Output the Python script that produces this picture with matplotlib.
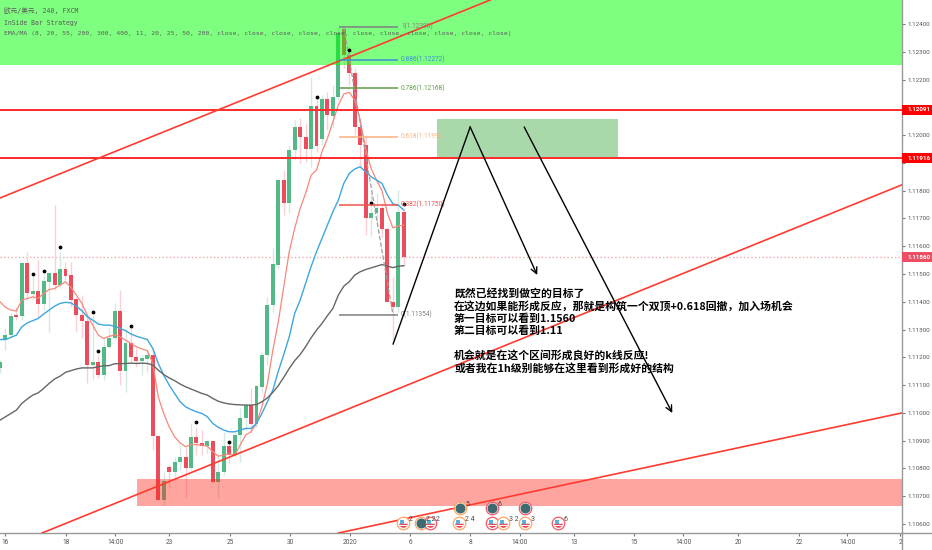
import matplotlib
matplotlib.use('Agg')
from matplotlib import pyplot as plt
from matplotlib.lines import Line2D
from matplotlib.patches import Rectangle

# candles, one per 4h bar
opens = [1.11160,1.11262,1.11282,1.11352,1.11350,1.11538,1.11428,1.11440,1.11393,1.11472,
         1.11502,1.11460,1.11518,1.11495,1.11410,1.11352,1.11332,1.11174,1.11183,1.11136,
         1.11237,1.11269,1.11366,1.11152,1.11251,1.11202,1.11186,1.11195,1.11210,1.10916,
         1.10686,1.10806,1.10787,1.10823,1.10840,1.10802,1.10912,1.10891,1.10880,1.10898,
         1.10752,1.10786,1.10880,1.10848,1.10919,1.10982,1.11028,1.10960,1.11094,1.11208,
         1.11388,1.11534,1.11838,1.11754,1.11946,1.12028,1.11994,1.11949,1.12106,1.11985,
         1.12129,1.12069,1.12136,1.12381,1.12288,1.12225,1.12030,1.11964,1.11700,1.11718,
         1.11738,1.11663,1.11400,1.11382,1.11724]
closes = [1.11184,1.11282,1.11350,1.11347,1.11538,1.11430,1.11440,1.11393,1.11474,1.11502,
          1.11460,1.11518,1.11492,1.11408,1.11352,1.11332,1.11174,1.11183,1.11136,1.11238,
          1.11269,1.11366,1.11152,1.11251,1.11202,1.11186,1.11197,1.11210,1.10916,1.10686,
          1.10756,1.10787,1.10824,1.10840,1.10802,1.10912,1.10890,1.10880,1.10898,1.10752,
          1.10786,1.10880,1.10848,1.10919,1.10982,1.11028,1.10960,1.11096,1.11210,1.11389,
          1.11536,1.11838,1.11756,1.11946,1.12028,1.11994,1.11949,1.12106,1.11961,1.12129,
          1.12072,1.12138,1.12366,1.12288,1.12225,1.12030,1.11964,1.11700,1.11720,1.11738,
          1.11663,1.11400,1.11382,1.11724,1.11560]
highs = [1.11190,1.11304,1.11358,1.11382,1.11544,1.11580,1.11490,1.11552,1.11496,1.11508,
         1.11748,1.11580,1.11544,1.11544,1.11418,1.11424,1.11346,1.11352,1.11208,1.11274,
         1.11304,1.11394,1.11444,1.11304,1.11304,1.11232,1.11208,1.11226,1.11232,1.10920,
         1.10788,1.10812,1.10842,1.10884,1.10878,1.10962,1.10950,1.10938,1.10902,1.10902,
         1.10854,1.10932,1.10890,1.10932,1.11016,1.11034,1.11088,1.11100,1.11220,1.11418,
         1.11592,1.11844,1.11874,1.11964,1.12054,1.12060,1.12042,1.12210,1.12138,1.12144,
         1.12156,1.12180,1.12390,1.12390,1.12320,1.12240,1.12060,1.12000,1.11790,1.11790,
         1.11754,1.11670,1.11490,1.11802,1.11730]
lows = [1.11142,1.11226,1.11274,1.11334,1.11334,1.11406,1.11406,1.11346,1.11370,1.11292,
        1.11442,1.11448,1.11478,1.11382,1.11292,1.11268,1.11106,1.11118,1.11124,1.11118,
        1.11232,1.11262,1.11100,1.11076,1.11184,1.11166,1.11138,1.11148,1.10866,1.10686,
        1.10668,1.10734,1.10758,1.10794,1.10698,1.10794,1.10848,1.10848,1.10854,1.10746,
        1.10692,1.10776,1.10818,1.10842,1.10824,1.10938,1.10926,1.10950,1.11070,1.11172,
        1.11364,1.11520,1.11712,1.11718,1.11910,1.11898,1.11904,1.11886,1.11940,1.11964,
        1.12018,1.12030,1.12126,1.12240,1.12180,1.12000,1.11880,1.11640,1.11636,1.11682,
        1.11634,1.11400,1.11262,1.11358,1.11528]

dot_bars = [6,8,11,17,18,24,36,42,58,64,68,74]
dot_prices = [1.11500,1.11512,1.11596,1.11363,1.11224,1.11312,1.10968,1.10896,1.12138,1.12306,1.11754,1.11752]

ema_fast = [1.11400,1.11380,1.11370,1.11367,1.11406,1.11412,1.11418,1.11412,1.11430,1.11444,
            1.11448,1.11460,1.11472,1.11452,1.11424,1.11394,1.11352,1.11316,1.11280,1.11268,
            1.11276,1.11280,1.11274,1.11262,1.11250,1.11238,1.11230,1.11224,1.11178,1.11058,
            1.10998,1.10950,1.10914,1.10892,1.10878,1.10886,1.10886,1.10884,1.10880,1.10860,
            1.10844,1.10848,1.10852,1.10848,1.10884,1.10920,1.10932,1.10962,1.11022,1.11106,
            1.11226,1.11328,1.11454,1.11580,1.11664,1.11736,1.11790,1.11856,1.11874,1.11940,
            1.11988,1.12048,1.12108,1.12148,1.12154,1.12126,1.12054,1.11952,1.11880,1.11838,
            1.11800,1.11718,1.11666,1.11673,1.11676]
ema_mid = [1.11264,1.11264,1.11272,1.11280,1.11310,1.11324,1.11332,1.11340,1.11356,1.11370,
           1.11384,1.11394,1.11398,1.11396,1.11384,1.11368,1.11346,1.11334,1.11320,1.11316,
           1.11316,1.11312,1.11304,1.11296,1.11284,1.11276,1.11270,1.11264,1.11232,1.11178,
           1.11136,1.11100,1.11070,1.11040,1.11022,1.11012,1.11004,1.10998,1.10986,1.10962,
           1.10948,1.10938,1.10932,1.10932,1.10938,1.10944,1.10944,1.10962,1.10998,1.11040,
           1.11082,1.11150,1.11210,1.11274,1.11358,1.11406,1.11466,1.11526,1.11580,1.11628,
           1.11676,1.11724,1.11766,1.11826,1.11862,1.11878,1.11886,1.11868,1.11850,1.11838,
           1.11826,1.11784,1.11752,1.11748,1.11730]
ema_slow = [1.10974,1.10986,1.10998,1.11010,1.11034,1.11050,1.11064,1.11072,1.11088,1.11106,
            1.11122,1.11132,1.11146,1.11152,1.11158,1.11162,1.11162,1.11162,1.11166,1.11170,
            1.11170,1.11177,1.11177,1.11178,1.11179,1.11178,1.11179,1.11178,1.11172,1.11154,
            1.11138,1.11126,1.11116,1.11104,1.11094,1.11086,1.11078,1.11070,1.11064,1.11052,
            1.11042,1.11036,1.11032,1.11030,1.11029,1.11028,1.11028,1.11030,1.11040,1.11054,
            1.11074,1.11098,1.11128,1.11160,1.11188,1.11210,1.11238,1.11270,1.11298,1.11322,
            1.11350,1.11376,1.11424,1.11456,1.11472,1.11496,1.11508,1.11516,1.11522,1.11528,
            1.11534,1.11528,1.11523,1.11528,1.11530]

fib_labels = ['1(1.12390)','0.886(1.12272)','0.786(1.12168)','0.618(1.11994)','0.382(1.11750)','0(1.11354)']
fib_prices = [1.12390,1.12272,1.12168,1.11994,1.11750,1.11354]
fib_colors = ['#808080','#3f8fd8','#5f9e45','#ffb27d','#ef5350','#808080']

level_prices = [1.12091,1.11916]
last_price = 1.11560

ytick_vals = [1.124,1.123,1.122,1.121,1.120,1.119,1.118,1.117,1.116,1.115,1.114,1.113,1.112,1.111,1.110,1.109,1.108,1.107,1.106]
ytick_labels = ['1.12400','1.12300','1.12200','','1.12000','','1.11800','1.11700','1.11600','1.11500','1.11400','1.11300','1.11200','1.11100','1.11000','1.10900','1.10800','1.10700','1.10600']
xtick_bars = [0.9,12.1,21.1,31.0,42.2,53.2,64.2,75.2,86.2,95.3,105.2,116.2,125.2,135.3,146.5,155.3,165.0]
xtick_labels = ['16','18','14:00','23','25','30','2020','6','8','14:00','13','15','14:00','20','22','14:00','2']

event_bars = [73.9,77.1,78.8,84.1,84.3,90.1,90.1,92.2,96.2,96.2,102.3]
event_prices = [1.10604,1.10604,1.10604,1.10604,1.10658,1.10658,1.10604,1.10604,1.10658,1.10604,1.10604]
event_kinds = ['us','dark','us','us','dark','dark','us','us','dark','us','us']
event_text = ['2','2 2','2','2 4','5','6','','3 2','','3','6']
event_rings = ['#ffa564','#ffa564','#f05a6a','#ffa564','#ffa564','#f05a6a','#f05a6a','#ffa564','#f05a6a','#ffa564','#f05a6a']

note = '既然已经找到做空的目标了\n在这边如果能形成反应，那就是构筑一个双顶+0.618回撤，加入场机会\n第一目标可以看到1.1560\n第二目标可以看到1.11\n\n机会就是在这个区间形成良好的k线反应!\n或者我在1h级别能够在这里看到形成好的结构'

GREEN = '#53b987'
RED = '#eb4d5c'
CJK = ['Noto Sans CJK SC','DejaVu Sans']
MONO = ['DejaVu Sans Mono','Noto Sans CJK SC']

fig = plt.figure(figsize=(9.32,5.5),dpi=100)
ax = fig.add_axes([0,17/550,901.5/932,533/550])
ax.set_xlim(0,165.2)
ax.set_ylim(1.105676,1.124864)

bars = list(range(len(opens)))
for i in bars:
    col = GREEN if closes[i]>=opens[i] else RED
    pale = '#d3eae2' if closes[i]>=opens[i] else '#fad0d5'
    ax.vlines(i,lows[i],highs[i],color=pale,lw=1,zorder=2)
    ax.bar(i,abs(closes[i]-opens[i]),bottom=min(opens[i],closes[i]),width=0.72,color=col,zorder=3)
ax.scatter(dot_bars,dot_prices,s=3,color='black',zorder=6)

ax.plot(bars,ema_fast,color='#f8877c',lw=0.9,zorder=4)
ax.plot(bars,ema_mid,color='#3ea6e0',lw=1,zorder=4)
ax.plot(bars,ema_slow,color='#666666',lw=1,zorder=4)

# zones sit over the candles
ax.axhspan(1.122542,1.124864,color='#00ff00',alpha=0.5,lw=0,zorder=5)
ax.fill_between([25.06,165.2],1.106666,1.107631,color='#ff2a1a',alpha=0.42,lw=0,zorder=5)
ax.fill_between([80.1,113.3],1.119212,1.12058,color='#4caf50',alpha=0.48,lw=0,zorder=5)

for p in level_prices:
    ax.axhline(p,color='#ff2a2a',lw=1.4,zorder=6)
ax.axhline(last_price,color='#f6a6ae',lw=1,ls=':',zorder=1)

for x,y in [((0,89.83),(1.117736,1.124864)),((7.7,165.2),(1.105676,1.118204)),((62,165.2),(1.105676,1.109996))]:
    ax.plot(x,y,color='#ff3b30',lw=1.2,zorder=6)

# fib retracement
ax.plot([63,72],[1.12390,1.11354],color='#a0a0a0',lw=0.9,ls='--',zorder=5)
for lab,p,c in zip(fib_labels,fib_prices,fib_colors):
    ax.hlines(p,62.1,73,color=c,lw=1.1,zorder=6)
    ax.text(73.5,p,lab,color=c,fontsize=4.7,family='Roboto',va='center',zorder=7)

# hand drawn arrows
ax.plot([72.04,86.16],[1.11248,1.120292],color='black',lw=1,zorder=7)
ax.annotate('',xy=(98.44,1.114964),xytext=(86.16,1.120292),arrowprops=dict(arrowstyle='->',color='black',lw=1,shrinkA=0,shrinkB=0,mutation_scale=11),zorder=7)
ax.annotate('',xy=(123.2,1.109996),xytext=(96.06,1.120292),arrowprops=dict(arrowstyle='->',color='black',lw=1,shrinkA=0,shrinkB=0,mutation_scale=11),zorder=7)

ax.text(83.2,1.114496,note,family=CJK,fontsize=7.8,fontweight='bold',color='black',va='top',ha='left',linespacing=1.22,zorder=8)

# economic calendar icons
for x,y,k,t,r in zip(event_bars,event_prices,event_kinds,event_text,event_rings):
    ax.plot(x,y,'o',ms=9,mfc='white',mec=r,mew=0.9,zorder=8)
    if k=='dark':
        ax.plot(x,y,'o',ms=6.2,color='#3f6b70',zorder=9)
    else:
        ax.plot(x,y,'o',ms=6.2,fillstyle='bottom',color='#ee4455',markerfacecoloralt='white',mew=0,zorder=9)
        ax.plot(x-0.2,y+0.00005,'s',ms=3.4,color='#5ab0d8',mew=0,zorder=10)
        ax.plot(x,y-0.00009,'_',ms=6,color='white',mew=0.7,zorder=10)
    if t:
        ax.text(x+1.05,y+0.00014,t,fontsize=5,family='Roboto',color='#444444',va='center',zorder=11)

ax.set_yticks(ytick_vals)
ax.set_yticklabels(ytick_labels,fontsize=4.5,family='Roboto',color='#555555')
ax.set_xticks(xtick_bars)
ax.set_xticklabels(xtick_labels,fontsize=4.7,family='Roboto',color='#555555')
ax.yaxis.tick_right()
ax.tick_params(axis='y',length=2.5,width=0.8,color='#777777',pad=1.5)
ax.tick_params(axis='x',length=2.5,width=0.8,color='#777777',pad=1.5)
for s in ['top','left']:
    ax.spines[s].set_visible(False)
for s in ['right','bottom']:
    ax.spines[s].set_color('#999999')
    ax.spines[s].set_linewidth(1)
fig.add_artist(Line2D([901.5/932,901.5/932],[0,17/550],color='#999999',lw=1))
fig.add_artist(Line2D([901.5/932,1],[17/550,17/550],color='#999999',lw=1))

# price tags on the axis
for p,c in [(1.12091,'#ff0000'),(1.11916,'#ff0000'),(last_price,'#ec4f64')]:
    ax.add_patch(Rectangle((1,p-0.00018),0.034,0.00036,transform=ax.get_yaxis_transform(),fc=c,ec='none',clip_on=False,zorder=20))
    ax.text(1.0065,p,'%.5f'%p,transform=ax.get_yaxis_transform(),fontsize=4.5,family='Roboto',fontweight='bold',
            color='white',va='center',ha='left',zorder=21,clip_on=False)

# legend lines
ax.text(4/5.455,1.124864-11*0.000036,'欧元/美元, 240, FXCM',family=MONO,fontsize=4.8,color='#5a5a5a',va='center',zorder=12)
ax.text(4/5.455,1.124864-23*0.000036,'InSide Bar Strategy',family=MONO,fontsize=4.7,color='#5a5a5a',va='center',zorder=12)
ax.text(4/5.455,1.124864-34*0.000036,'EMA/MA (8, 20, 55, 200, 300, 400, 11, 20, 25, 50, 200, close, close, close, close, close, close, close, close, close, close, close)',
        family=MONO,fontsize=4.56,color='#5a5a5a',va='center',zorder=12)

fig.savefig('out.png',dpi=100,facecolor='white')
